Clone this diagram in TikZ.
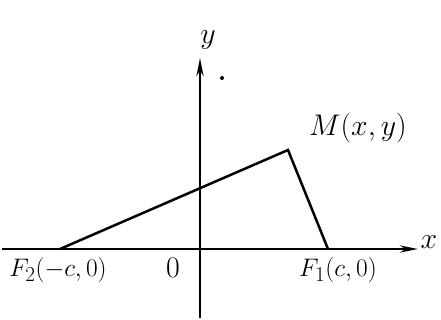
\documentclass[tikz,border=0pt]{standalone}
\usetikzlibrary{arrows.meta}
\begin{document}
\begin{tikzpicture}[x=1pt,y=-1pt,
  axis/.style={line width=2.8pt,-{Stealth[length=18pt,width=7pt]}},
  seg/.style={line width=2.5pt},
  lbl/.style={font=\Huge,inner sep=0pt,scale=1.2}]
\useasboundingbox (0,0) rectangle (441,320);
\coordinate (xs) at (2,249);
\coordinate (xe) at (418,249);
\coordinate (ys) at (200,318);
\coordinate (ye) at (200,58);
\draw[axis] (xs) -- (xe);
\draw[axis] (ys) -- (ye);
\coordinate (F2) at (60,249);
\coordinate (F1) at (328,249);
\coordinate (M) at (288,150);
\draw[seg] (F2) -- (M) -- (F1);
\node[lbl] (xl) at (429,242) {$x$};
\node[lbl] (yl) at (208,40) {$y$};
\node[lbl] (ol) at (173,268) {$0$};
\node[lbl] (ml) at (358,128) {$M(x,y)$};
\node[lbl,scale=0.85] (f2l) at (58,270) {$F_2(-c,0)$};
\node[lbl,scale=0.85] (f1l) at (338,270) {$F_1(c,0)$};
\fill (222,78) circle (2);
\end{tikzpicture}
\end{document}
